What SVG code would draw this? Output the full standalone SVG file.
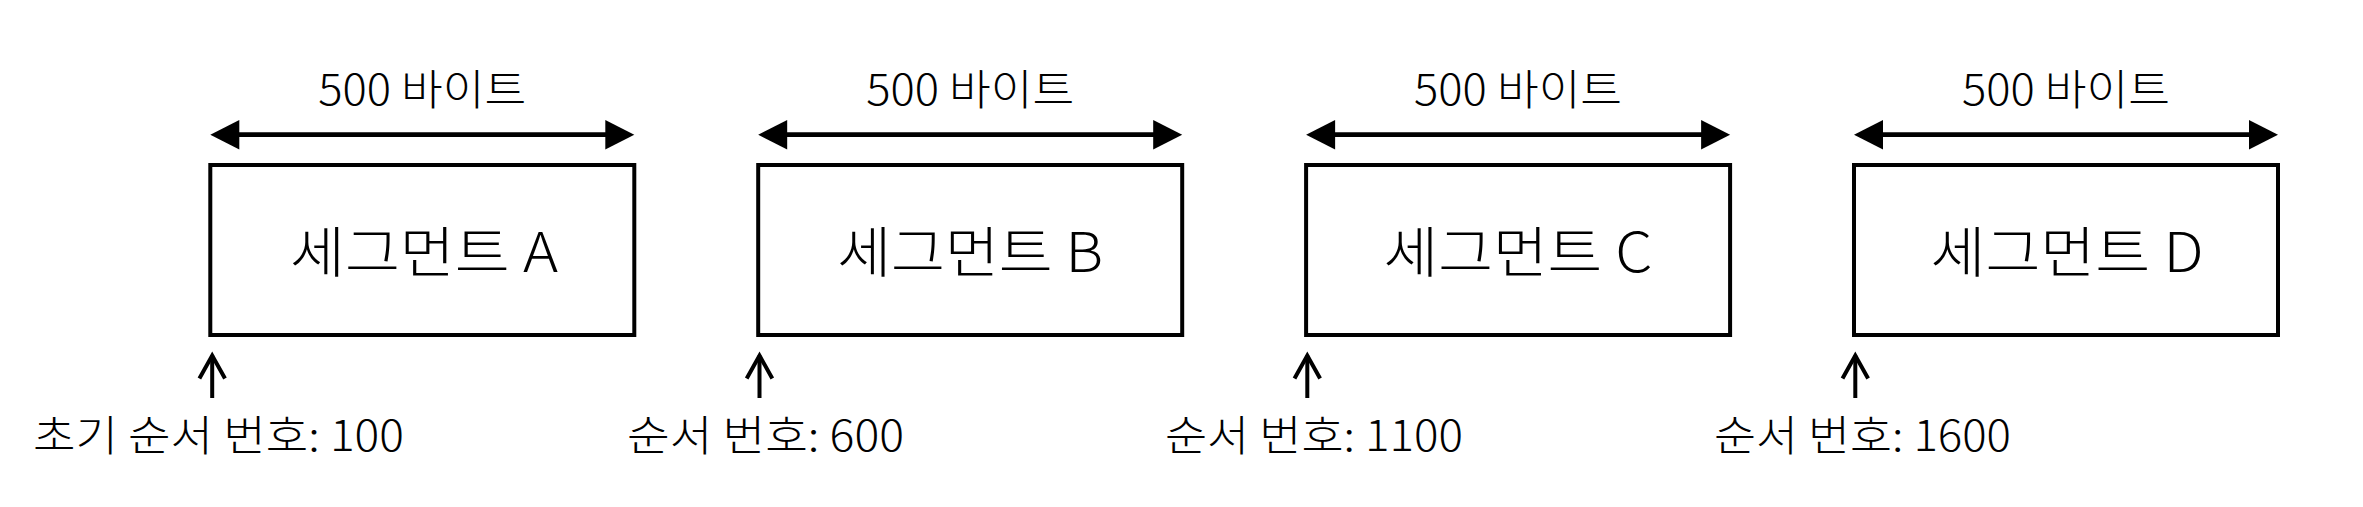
<svg xmlns="http://www.w3.org/2000/svg" width="2363" height="507" viewBox="0 0 2363 507">
<style>
.box{fill:#fff;stroke:#000;stroke-width:4}
.dim{stroke:#000;stroke-width:4.7;fill:none}
.up{stroke:#000;stroke-width:4;fill:none}
.t{font-family:"Noto Sans CJK KR","Noto Sans",sans-serif;fill:#000;font-weight:300}
.top{font-size:42px;text-anchor:middle}
.name{font-size:55px;text-anchor:middle}
.seq{font-size:42px}
</style>
<defs>
<marker id="tri" markerUnits="userSpaceOnUse" markerWidth="30" markerHeight="30" refX="14" refY="14.7" orient="auto-start-reverse" overflow="visible">
<path d="M0,0 L29,14.7 L0,29.4 z" fill="#000"/>
</marker>
<marker id="chev" markerUnits="userSpaceOnUse" markerWidth="30" markerHeight="30" refX="23" refY="12.8" orient="auto" overflow="visible">
<path d="M0,0 L23,12.8 L0,25.6" fill="none" stroke="#000" stroke-width="4"/>
</marker>
</defs>
<rect width="2363" height="507" fill="#fff"/>
<g id="segA">
<rect class="box" x="210.3" y="165" width="424" height="170"/>
<text class="t top" x="422.3" y="105" textLength="208" lengthAdjust="spacingAndGlyphs">500 바이트</text>
<text class="t name" x="424" y="272" textLength="268" lengthAdjust="spacingAndGlyphs">세그먼트 A</text>
<text class="t seq" x="33" y="451" textLength="371" lengthAdjust="spacingAndGlyphs">초기 순서 번호: 100</text>
</g>
<g id="segB">
<rect class="box" x="758.2" y="165" width="424" height="170"/>
<text class="t top" x="970.2" y="105" textLength="208" lengthAdjust="spacingAndGlyphs">500 바이트</text>
<text class="t name" x="970.2" y="272" textLength="266" lengthAdjust="spacingAndGlyphs">세그먼트 B</text>
<text class="t seq" x="627" y="451" textLength="277" lengthAdjust="spacingAndGlyphs">순서 번호: 600</text>
</g>
<g id="segC">
<rect class="box" x="1306.1" y="165" width="424" height="170"/>
<text class="t top" x="1518.1" y="105" textLength="208" lengthAdjust="spacingAndGlyphs">500 바이트</text>
<text class="t name" x="1518.1" y="272" textLength="269" lengthAdjust="spacingAndGlyphs">세그먼트 C</text>
<text class="t seq" x="1165" y="451" textLength="298" lengthAdjust="spacingAndGlyphs">순서 번호: 1100</text>
</g>
<g id="segD">
<rect class="box" x="1854" y="165" width="424" height="170"/>
<text class="t top" x="2066" y="105" textLength="208" lengthAdjust="spacingAndGlyphs">500 바이트</text>
<text class="t name" x="2067" y="272" textLength="273" lengthAdjust="spacingAndGlyphs">세그먼트 D</text>
<text class="t seq" x="1714" y="451" textLength="297" lengthAdjust="spacingAndGlyphs">순서 번호: 1600</text>
</g>
<g id="connectors">
<line class="dim" x1="225.3" y1="134.7" x2="619.3" y2="134.7" marker-start="url(#tri)" marker-end="url(#tri)"/>
<line class="dim" x1="773.2" y1="134.7" x2="1167.2" y2="134.7" marker-start="url(#tri)" marker-end="url(#tri)"/>
<line class="dim" x1="1321.1" y1="134.7" x2="1715.1" y2="134.7" marker-start="url(#tri)" marker-end="url(#tri)"/>
<line class="dim" x1="1869" y1="134.7" x2="2263" y2="134.7" marker-start="url(#tri)" marker-end="url(#tri)"/>
<line class="up" x1="212.2" y1="398" x2="212.2" y2="355.5" marker-end="url(#chev)"/>
<line class="up" x1="759.5" y1="398" x2="759.5" y2="355.5" marker-end="url(#chev)"/>
<line class="up" x1="1307.3" y1="398" x2="1307.3" y2="355.5" marker-end="url(#chev)"/>
<line class="up" x1="1855.3" y1="398" x2="1855.3" y2="355.5" marker-end="url(#chev)"/>
</g>
</svg>
